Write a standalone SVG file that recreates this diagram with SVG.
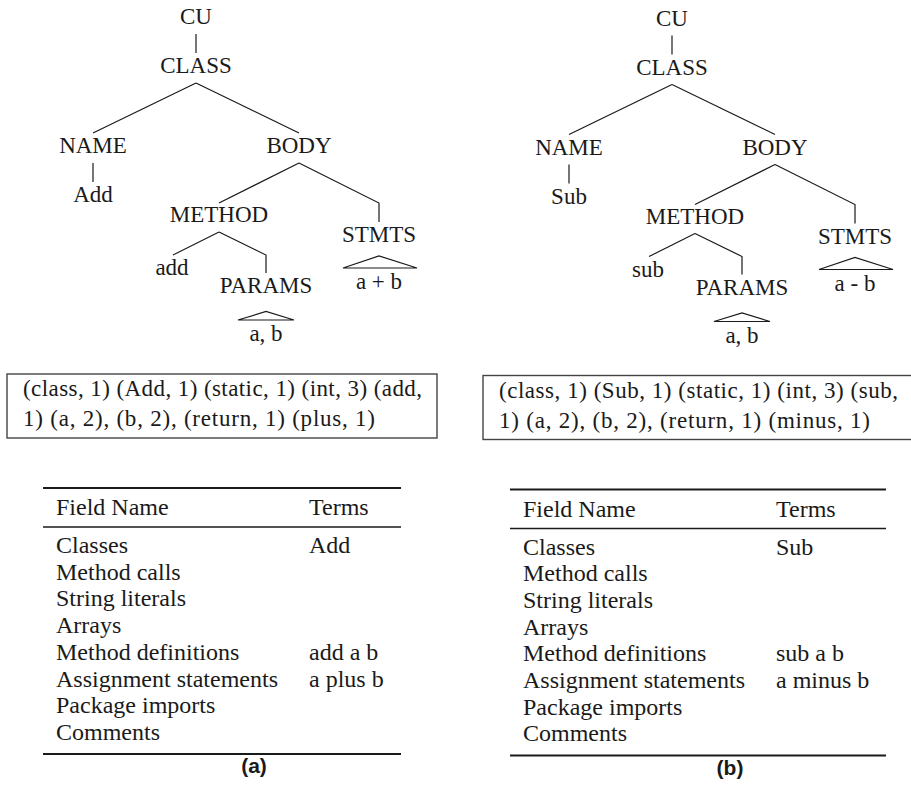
<svg xmlns="http://www.w3.org/2000/svg" width="911" height="792" viewBox="0 0 911 792">
<style>
text{font-family:"Liberation Serif","DejaVu Serif",serif;fill:#1a1a1a}
.t{font-size:23px;text-anchor:middle}
.bx{font-size:23px}
.tb{font-size:24px}
.cap{font-family:"Liberation Sans","DejaVu Sans",sans-serif;font-weight:bold;font-size:21px;text-anchor:middle}
.e{fill:none;stroke:#1a1a1a;stroke-width:1.2}
.box{fill:none;stroke:#444;stroke-width:1.4}
.rt{stroke:#1a1a1a;stroke-width:2}
.rm{stroke:#1a1a1a;stroke-width:1.3}
</style>
<g id="fig-a">
  <g id="connectors-a">
    <path class="e" d="M196 34V53"/>
    <path class="e" d="M196 83L93 133"/>
    <path class="e" d="M196 83L299 133"/>
    <path class="e" d="M93 163V182"/>
    <path class="e" d="M299 163L219 203"/>
    <path class="e" d="M299 163L379 203V222"/>
    <path class="e" d="M219 232L173 255"/>
    <path class="e" d="M219 232L266 255V273"/>
    <path class="e" d="M343 268L379 256L417 268Z"/>
    <path class="e" d="M238 320L266 311.5L294 320Z"/>
  </g>
  <g id="a-cu"><text class="t" x="196" y="24">CU</text></g>
  <g id="a-class"><text class="t" x="196" y="73">CLASS</text></g>
  <g id="a-name"><text class="t" x="93" y="153">NAME</text></g>
  <g id="a-body"><text class="t" x="299" y="153">BODY</text></g>
  <g id="a-add-name"><text class="t" x="93" y="202">Add</text></g>
  <g id="a-method"><text class="t" x="219" y="222">METHOD</text></g>
  <g id="a-stmts"><text class="t" x="379" y="242">STMTS</text></g>
  <g id="a-add"><text class="t" x="172" y="275">add</text></g>
  <g id="a-params"><text class="t" x="266" y="293">PARAMS</text></g>
  <g id="a-stmts-leaf"><text class="t" x="379" y="289">a + b</text></g>
  <g id="a-params-leaf"><text class="t" x="266" y="341">a, b</text></g>
  <g id="a-vector">
    <rect class="box" x="7" y="374" width="430" height="64"/>
    <text class="bx" x="23" y="396" textLength="399" lengthAdjust="spacing">(class, 1) (Add, 1) (static, 1) (int, 3) (add,</text>
    <text class="bx" x="23" y="426" textLength="352" lengthAdjust="spacing">1) (a, 2), (b, 2), (return, 1) (plus, 1)</text>
  </g>
  <g id="a-table">
    <line class="rt" x1="43" y1="488" x2="401" y2="488"/>
    <text class="tb" x="56" y="515">Field Name</text>
    <text class="tb" x="309" y="515">Terms</text>
    <line class="rm" x1="43" y1="527" x2="401" y2="527"/>
    <text class="tb" x="56" y="553">Classes</text>
    <text class="tb" x="309" y="553">Add</text>
    <text class="tb" x="56" y="579.7">Method calls</text>
    <text class="tb" x="56" y="606.4">String literals</text>
    <text class="tb" x="56" y="633.1">Arrays</text>
    <text class="tb" x="56" y="659.8">Method definitions</text>
    <text class="tb" x="309" y="659.8">add a b</text>
    <text class="tb" x="56" y="686.5">Assignment statements</text>
    <text class="tb" x="309" y="686.5">a plus b</text>
    <text class="tb" x="56" y="713.2">Package imports</text>
    <text class="tb" x="56" y="739.9">Comments</text>
    <line class="rt" x1="43" y1="754" x2="401" y2="754"/>
  </g>
  <g id="a-caption"><text class="cap" x="254" y="773">(a)</text></g>
</g>
<g id="fig-b">
  <g id="connectors-b">
    <path class="e" d="M672 35.5V54.5"/>
    <path class="e" d="M672 84.5L569 134.5"/>
    <path class="e" d="M672 84.5L775 134.5"/>
    <path class="e" d="M569 164.5V183.5"/>
    <path class="e" d="M775 164.5L695 204.5"/>
    <path class="e" d="M775 164.5L855 204.5V223.5"/>
    <path class="e" d="M695 233.5L649 256.5"/>
    <path class="e" d="M695 233.5L742 256.5V274.5"/>
    <path class="e" d="M819 269.5L855 257.5L893 269.5Z"/>
    <path class="e" d="M714 321.5L742 313L770 321.5Z"/>
  </g>
  <g id="b-cu"><text class="t" x="672" y="25.5">CU</text></g>
  <g id="b-class"><text class="t" x="672" y="74.5">CLASS</text></g>
  <g id="b-name"><text class="t" x="569" y="154.5">NAME</text></g>
  <g id="b-body"><text class="t" x="775" y="154.5">BODY</text></g>
  <g id="b-sub-name"><text class="t" x="569" y="203.5">Sub</text></g>
  <g id="b-method"><text class="t" x="695" y="223.5">METHOD</text></g>
  <g id="b-stmts"><text class="t" x="855" y="243.5">STMTS</text></g>
  <g id="b-sub"><text class="t" x="648" y="276.5">sub</text></g>
  <g id="b-params"><text class="t" x="742" y="294.5">PARAMS</text></g>
  <g id="b-stmts-leaf"><text class="t" x="855" y="290.5">a - b</text></g>
  <g id="b-params-leaf"><text class="t" x="742" y="342.5">a, b</text></g>
  <g id="b-vector">
    <rect class="box" x="483" y="375.5" width="430" height="64"/>
    <text class="bx" x="499" y="397.5" textLength="399" lengthAdjust="spacing">(class, 1) (Sub, 1) (static, 1) (int, 3) (sub,</text>
    <text class="bx" x="499" y="427.5" textLength="371" lengthAdjust="spacing">1) (a, 2), (b, 2), (return, 1) (minus, 1)</text>
  </g>
  <g id="b-table">
    <line class="rt" x1="510" y1="489.5" x2="886" y2="489.5"/>
    <text class="tb" x="523" y="516.5">Field Name</text>
    <text class="tb" x="776" y="516.5">Terms</text>
    <line class="rm" x1="510" y1="528.5" x2="886" y2="528.5"/>
    <text class="tb" x="523" y="554.5">Classes</text>
    <text class="tb" x="776" y="554.5">Sub</text>
    <text class="tb" x="523" y="581.2">Method calls</text>
    <text class="tb" x="523" y="607.9">String literals</text>
    <text class="tb" x="523" y="634.6">Arrays</text>
    <text class="tb" x="523" y="661.3">Method definitions</text>
    <text class="tb" x="776" y="661.3">sub a b</text>
    <text class="tb" x="523" y="688">Assignment statements</text>
    <text class="tb" x="776" y="688">a minus b</text>
    <text class="tb" x="523" y="714.7">Package imports</text>
    <text class="tb" x="523" y="741.4">Comments</text>
    <line class="rt" x1="510" y1="755.5" x2="886" y2="755.5"/>
  </g>
  <g id="b-caption"><text class="cap" x="730" y="774.5">(b)</text></g>
</g>
</svg>
